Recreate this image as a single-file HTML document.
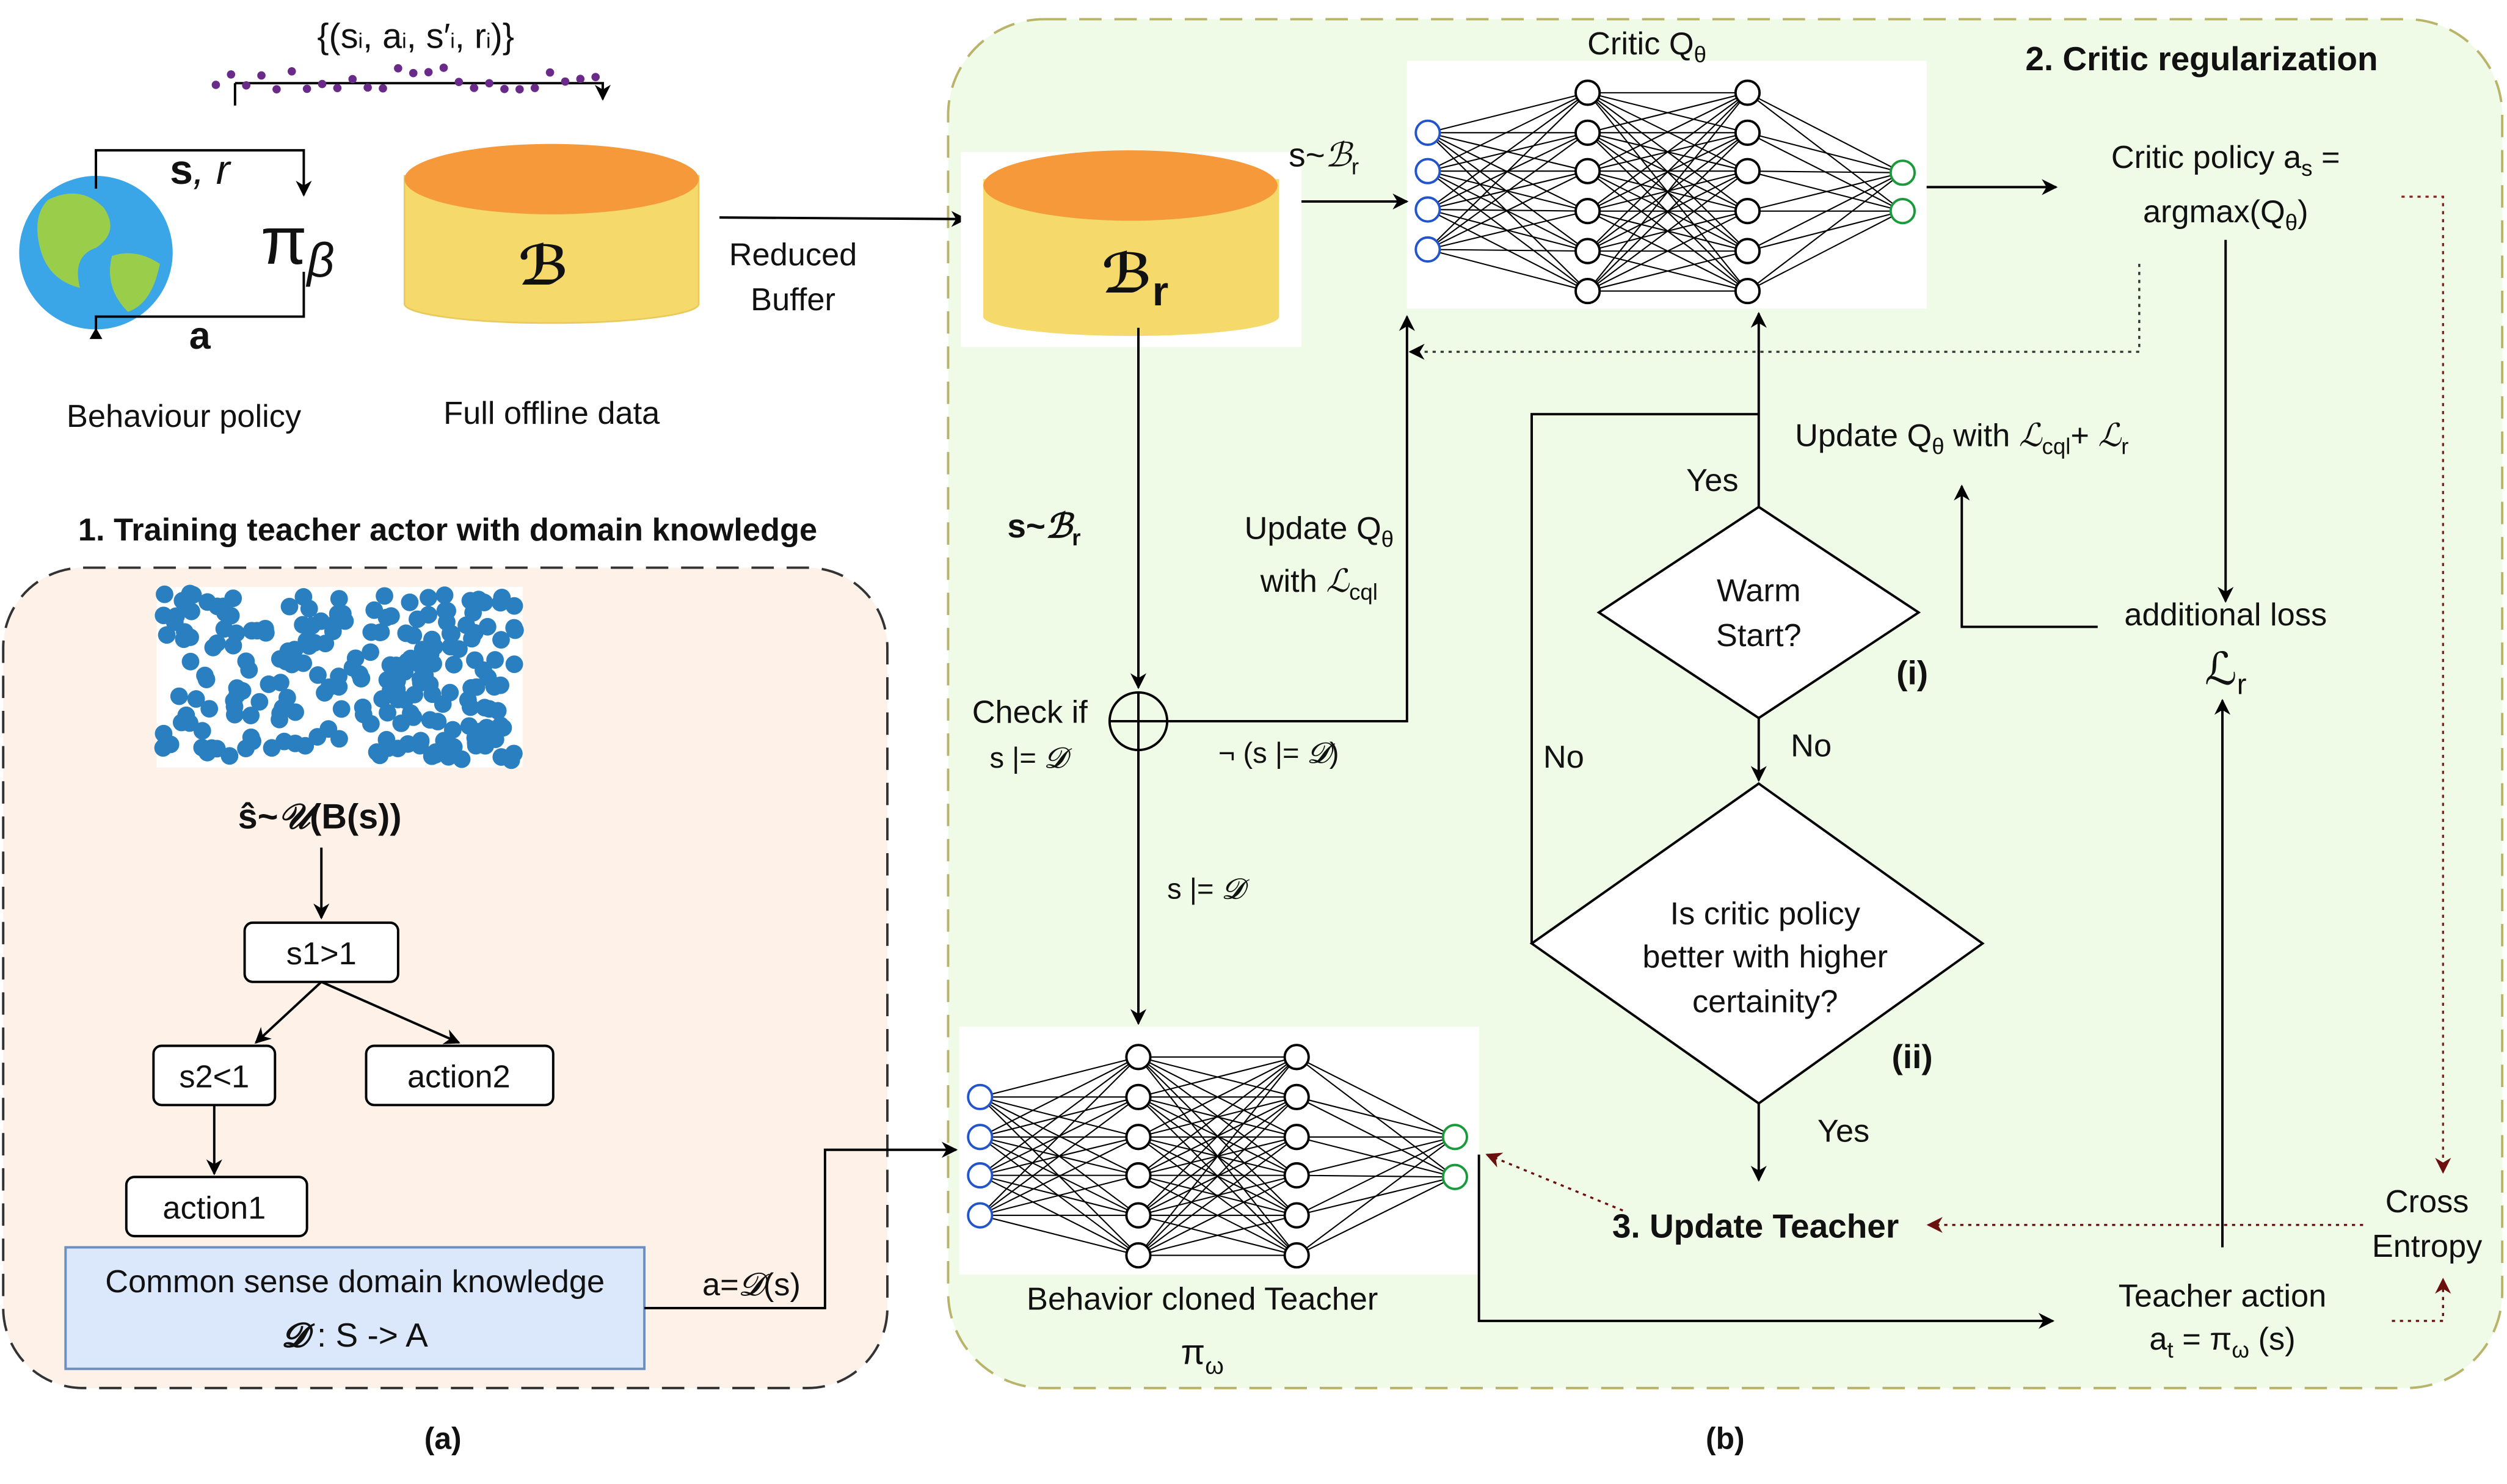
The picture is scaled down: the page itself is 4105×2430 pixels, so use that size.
<!DOCTYPE html>
<html><head><meta charset="utf-8"><style>
html,body{margin:0;padding:0;background:#fff}
svg{display:block}
text{font-family:"Liberation Sans","DejaVu Sans",sans-serif;fill:#111}
</style></head><body>
<svg id="s" width="4105" height="2430" viewBox="0 0 1568 928" preserveAspectRatio="none" xmlns="http://www.w3.org/2000/svg">
<defs>
<marker id="ah" markerWidth="10" markerHeight="10" refX="9" refY="5" orient="auto" markerUnits="userSpaceOnUse"><path d="M0,0 L10,5 L0,10 L3,5 z" fill="#000"/></marker>
<marker id="ar" markerWidth="10" markerHeight="10" refX="9" refY="5" orient="auto" markerUnits="userSpaceOnUse"><path d="M0,0 L10,5 L0,10 L3,5 z" fill="#6b0f0f"/></marker>
</defs>
<rect width="1568" height="928" fill="#fff"/>
<!-- panels -->
<rect x="2" y="355" width="553" height="513" rx="50" fill="#fdf1e8" stroke="#333" stroke-dasharray="14,8" stroke-width="1.5"/>
<rect x="593" y="12" width="972" height="856" rx="60" fill="#effbe7" stroke="#b9b46a" stroke-dasharray="14,8" stroke-width="1.5"/>

<!-- top-left -->
<text x="260" y="30" font-size="22" text-anchor="middle" font-family="Liberation Serif">{(s<tspan font-size="13">i</tspan>, a<tspan font-size="13">i</tspan>, s′<tspan font-size="13">i</tspan>, r<tspan font-size="13">i</tspan>)}</text>
<path d="M147,52 L377,52 L377,62" fill="none" stroke="#000" stroke-width="1.5" marker-end="url(#ah)"/>
<line x1="147" y1="52" x2="147" y2="66" stroke="#000" stroke-width="1.5"/>
<g fill="#6a2a8a" id="pdots"></g>
<circle cx="60" cy="158" r="48" fill="#3aa6e8"/>
<path d="M30,125 q20,-10 35,5 q10,15 -5,25 q-15,5 -10,25 q-20,-5 -25,-25 q-5,-20 5,-30z M70,160 q15,-5 30,5 q-5,25 -20,30 q-15,-15 -10,-35z" fill="#9acd4a"/>
<polyline points="60,118 60,94 190,94 190,122" fill="none" stroke="#000" stroke-width="1.5" marker-end="url(#ah)"/>
<polyline points="190,170 190,198 60,198 60,210" fill="none" stroke="#000" stroke-width="1.5"/>
<path d="M56,212 L60,205 L64,212z" fill="#000"/>
<text x="125" y="115" font-size="26" text-anchor="middle" font-family="Liberation Serif" font-weight="bold">s<tspan font-weight="normal" font-style="italic">, r</tspan></text>
<text x="125" y="218" font-size="24" text-anchor="middle" font-family="Liberation Serif" font-weight="bold">a</text>
<text x="163" y="165" font-size="42" font-family="Liberation Serif">π<tspan font-size="30" font-style="italic" dy="8">β</tspan></text>
<text x="115" y="267" font-size="20" text-anchor="middle">Behaviour policy</text>

<!-- cylinder B -->
<path d="M253,110 L253,190 A92,12 0 0 0 437,190 L437,110 z" fill="#f5d96b" stroke="#e8c95a"/>
<ellipse cx="345" cy="112" rx="92" ry="22" fill="#f5993a"/>
<text x="340" y="178" font-size="34" font-style="italic" font-weight="bold" text-anchor="middle" font-family="Liberation Serif">ℬ</text>
<text x="345" y="265" font-size="20" text-anchor="middle">Full offline data</text>
<text x="496" y="166" font-size="20" text-anchor="middle">Reduced</text>
<text x="496" y="194" font-size="20" text-anchor="middle">Buffer</text>
<line x1="450" y1="136" x2="604" y2="137" stroke="#000" stroke-width="1.5" marker-end="url(#ah)"/>

<!-- Br cylinder -->
<rect x="601" y="95" width="213" height="122" fill="#fff"/>
<path d="M615,112 L615,198 A92,12 0 0 0 800,198 L800,112 z" fill="#f5d96b"/>
<ellipse cx="707" cy="116" rx="92" ry="22" fill="#f5993a"/>
<text x="710" y="183" font-size="34" font-style="italic" font-weight="bold" text-anchor="middle" font-family="Liberation Serif">ℬ<tspan font-style="normal" font-family="Liberation Sans" font-size="26" dy="8">r</tspan></text>

<!-- networks -->
<rect x="880" y="38" width="325" height="155" fill="#fff"/>
<rect x="600" y="642" width="325" height="155" fill="#fff"/>
<g id="nets"></g>
<text x="1030" y="34" font-size="20" text-anchor="middle">Critic Q<tspan font-size="14" dy="5">θ</tspan></text>
<text x="1377" y="44" font-size="21" font-weight="bold" text-anchor="middle">2. Critic regularization</text>

<text x="806" y="104" font-size="21">s~<tspan font-style="italic" font-family="Liberation Serif">ℬ</tspan><tspan font-size="14" dy="5">r</tspan></text>
<line x1="814" y1="126" x2="880" y2="126" stroke="#000" stroke-width="1.5" marker-end="url(#ah)"/>
<line x1="1205" y1="117" x2="1286" y2="117" stroke="#000" stroke-width="1.5" marker-end="url(#ah)"/>
<text x="1392" y="105" font-size="20" text-anchor="middle">Critic policy a<tspan font-size="14" dy="5">s</tspan><tspan dy="-5"> =</tspan></text>
<text x="1392" y="139" font-size="20" text-anchor="middle">argmax(Q<tspan font-size="14" dy="5">θ</tspan><tspan dy="-5">)</tspan></text>
<polyline points="1338,165 1338,220 882,220" fill="none" stroke="#333" stroke-width="1.3" stroke-dasharray="2,3" marker-end="url(#ah)"/>
<polyline points="1502,123 1528,123 1528,733" fill="none" stroke="#8b2020" stroke-width="1.3" stroke-dasharray="2,3" marker-end="url(#ar)"/>
<line x1="1392" y1="150" x2="1392" y2="376" stroke="#000" stroke-width="1.5" marker-end="url(#ah)"/>
<text x="1392" y="391" font-size="20" text-anchor="middle">additional loss</text>
<text x="1392" y="428" font-size="28" text-anchor="middle" font-style="italic" font-family="Liberation Serif">ℒ<tspan font-style="normal" font-family="Liberation Sans" font-size="18" dy="6">r</tspan></text>
<polyline points="1312,392 1227,392 1227,304" fill="none" stroke="#000" stroke-width="1.5" marker-end="url(#ah)"/>
<text x="1227" y="279" font-size="20" text-anchor="middle">Update Q<tspan font-size="14" dy="5">θ</tspan><tspan dy="-5"> with </tspan><tspan font-style="italic" font-family="Liberation Serif">ℒ</tspan><tspan font-size="14" dy="5">cql</tspan><tspan dy="-5">+ </tspan><tspan font-style="italic" font-family="Liberation Serif">ℒ</tspan><tspan font-size="14" dy="5">r</tspan></text>
<line x1="1390" y1="780" x2="1390" y2="438" stroke="#000" stroke-width="1.5" marker-end="url(#ah)"/>

<!-- left vertical from Br -->
<line x1="712" y1="205" x2="712" y2="430" stroke="#000" stroke-width="1.5" marker-end="url(#ah)"/>
<text x="630" y="336" font-size="21" font-weight="bold">s~<tspan font-style="italic" font-family="Liberation Serif">ℬ</tspan><tspan font-size="14" dy="5">r</tspan></text>
<circle cx="712" cy="451" r="18" fill="none" stroke="#000" stroke-width="1.5"/>
<line x1="694" y1="451" x2="730" y2="451" stroke="#000" stroke-width="1.5"/>
<line x1="712" y1="433" x2="712" y2="640" stroke="#000" stroke-width="1.5" marker-end="url(#ah)"/>
<text x="608" y="452" font-size="20">Check if</text>
<text x="619" y="480" font-size="18">s |= <tspan font-style="italic" font-family="Liberation Serif">𝓓</tspan></text>
<polyline points="730,451 880,451 880,198" fill="none" stroke="#000" stroke-width="1.5" marker-end="url(#ah)"/>
<text x="762" y="477" font-size="18">¬ (s |= <tspan font-family="Liberation Serif" font-style="italic">𝓓</tspan>)</text>
<text x="825" y="337" font-size="20" text-anchor="middle">Update Q<tspan font-size="14" dy="5">θ</tspan></text>
<text x="825" y="370" font-size="20" text-anchor="middle">with <tspan font-style="italic" font-family="Liberation Serif">ℒ</tspan><tspan font-size="14" dy="5">cql</tspan></text>
<text x="730" y="562" font-size="18">s |= <tspan font-family="Liberation Serif" font-style="italic">𝓓</tspan></text>

<!-- decisions -->
<polygon points="1100,317 1200,383 1100,449 1000,383" fill="#fff" stroke="#000" stroke-width="1.5"/>
<text x="1100" y="376" font-size="20" text-anchor="middle">Warm</text>
<text x="1100" y="404" font-size="20" text-anchor="middle">Start?</text>
<text x="1196" y="428" font-size="21" font-weight="bold" text-anchor="middle">(i)</text>
<line x1="1100" y1="317" x2="1100" y2="196" stroke="#000" stroke-width="1.5" marker-end="url(#ah)"/>
<text x="1071" y="307" font-size="20" text-anchor="middle">Yes</text>
<line x1="1100" y1="449" x2="1100" y2="488" stroke="#000" stroke-width="1.5" marker-end="url(#ah)"/>
<text x="1120" y="473" font-size="20">No</text>
<polygon points="1100,490 1240,590 1100,690 958,590" fill="#fff" stroke="#000" stroke-width="1.5"/>
<text x="1104" y="578" font-size="20" text-anchor="middle">Is critic policy</text>
<text x="1104" y="605" font-size="20" text-anchor="middle">better with higher</text>
<text x="1104" y="633" font-size="20" text-anchor="middle">certainity?</text>
<text x="1196" y="668" font-size="21" font-weight="bold" text-anchor="middle">(ii)</text>
<polyline points="958,590 958,259 1100,259" fill="none" stroke="#000" stroke-width="1.5"/>
<text x="978" y="480" font-size="20" text-anchor="middle">No</text>
<line x1="1100" y1="690" x2="1100" y2="738" stroke="#000" stroke-width="1.5" marker-end="url(#ah)"/>
<text x="1153" y="714" font-size="20" text-anchor="middle">Yes</text>
<text x="1098" y="774" font-size="21" font-weight="bold" text-anchor="middle">3. Update Teacher</text>
<line x1="1478" y1="766" x2="1206" y2="766" stroke="#6b0f0f" stroke-width="1.3" stroke-dasharray="2,3" marker-end="url(#ar)"/>
<line x1="1015" y1="757" x2="930" y2="722" stroke="#6b0f0f" stroke-width="1.3" stroke-dasharray="2,3" marker-end="url(#ar)"/>
<text x="1518" y="758" font-size="20" text-anchor="middle">Cross</text>
<text x="1518" y="786" font-size="20" text-anchor="middle">Entropy</text>
<polyline points="1496,826 1528,826 1528,800" fill="none" stroke="#6b0f0f" stroke-width="1.3" stroke-dasharray="2,3" marker-end="url(#ar)"/>

<text x="752" y="819" font-size="20" text-anchor="middle">Behavior cloned Teacher</text>
<text x="752" y="853" font-size="22" text-anchor="middle">π<tspan font-size="15" dy="6">ω</tspan></text>
<polyline points="925,722 925,826 1284,826" fill="none" stroke="#000" stroke-width="1.5" marker-end="url(#ah)"/>
<text x="1390" y="817" font-size="20" text-anchor="middle">Teacher action</text>
<text x="1390" y="844" font-size="20" text-anchor="middle">a<tspan font-size="14" dy="5">t</tspan><tspan dy="-5"> = π</tspan><tspan font-size="14" dy="5">ω</tspan><tspan dy="-5"> (s)</tspan></text>

<!-- left panel -->
<text x="280" y="338" font-size="20" font-weight="bold" text-anchor="middle">1. Training teacher actor with domain knowledge</text>
<rect x="98" y="367" width="229" height="113" fill="#fff"/>
<g id="dots" fill="#2a7fc0"></g>
<text x="200" y="518" font-size="22" font-weight="bold" text-anchor="middle">ŝ~<tspan font-style="italic" font-family="Liberation Serif">𝒰</tspan>(B(s))</text>
<line x1="201" y1="530" x2="201" y2="574" stroke="#000" stroke-width="1.5" marker-end="url(#ah)"/>
<rect x="153" y="577" width="96" height="37" rx="5" fill="#fff" stroke="#000" stroke-width="1.5"/>
<text x="201" y="603" font-size="20" text-anchor="middle">s1&gt;1</text>
<line x1="201" y1="614" x2="160" y2="652" stroke="#000" stroke-width="1.5" marker-end="url(#ah)"/>
<line x1="201" y1="614" x2="287" y2="652" stroke="#000" stroke-width="1.5" marker-end="url(#ah)"/>
<rect x="96" y="654" width="76" height="37" rx="5" fill="#fff" stroke="#000" stroke-width="1.5"/>
<text x="134" y="680" font-size="20" text-anchor="middle">s2&lt;1</text>
<rect x="229" y="654" width="117" height="37" rx="5" fill="#fff" stroke="#000" stroke-width="1.5"/>
<text x="287" y="680" font-size="20" text-anchor="middle">action2</text>
<line x1="134" y1="691" x2="134" y2="734" stroke="#000" stroke-width="1.5" marker-end="url(#ah)"/>
<rect x="79" y="736" width="113" height="37" rx="5" fill="#fff" stroke="#000" stroke-width="1.5"/>
<text x="134" y="762" font-size="20" text-anchor="middle">action1</text>
<rect x="41" y="780" width="362" height="76" fill="#dbe7fb" stroke="#6d8ebf" stroke-width="1.5"/>
<text x="222" y="808" font-size="20" text-anchor="middle">Common sense domain knowledge</text>
<text x="222" y="842" font-size="21" text-anchor="middle"><tspan font-style="italic" font-weight="bold" font-family="Liberation Serif">𝓓</tspan> : S -&gt; A</text>
<text x="470" y="810" font-size="20" text-anchor="middle">a=<tspan font-style="italic" font-family="Liberation Serif">𝓓</tspan>(s)</text>
<polyline points="403,818 516,818 516,719 598,719" fill="none" stroke="#000" stroke-width="1.5" marker-end="url(#ah)"/>

<text x="277" y="906" font-size="19" font-weight="bold" text-anchor="middle">(a)</text>
<text x="1079" y="906" font-size="19" font-weight="bold" text-anchor="middle">(b)</text>
</svg>
<script>
var NS="http://www.w3.org/2000/svg";
function el(p,t,a){var e=document.createElementNS(NS,t);for(var k in a)e.setAttribute(k,a[k]);p.appendChild(e);return e;}
var nets=document.getElementById("nets");
function net(x0,dx,iy,hy,oy,xo){
 var xs=[x0,x0+dx,x0+2*dx,xo];var L=[iy,hy,hy,oy];
 for(var l=0;l<3;l++)for(var i=0;i<L[l].length;i++)for(var j=0;j<L[l+1].length;j++)
  el(nets,"line",{x1:xs[l],y1:L[l][i],x2:xs[l+1],y2:L[l+1][j],stroke:"#000","stroke-width":0.8});
 var col=["#2255cc","#000","#000","#1a9a3a"];
 for(var l=0;l<4;l++)for(var i=0;i<L[l].length;i++)
  el(nets,"circle",{cx:xs[l],cy:L[l][i],r:7.5,fill:"#fff",stroke:col[l],"stroke-width":1.5});
}
net(893,100,[83,107,131,156],[58,83,107,132,157,182],[108,132],1190);
net(613,99,[686,711,735,760],[661,686,711,735,760,785],[711,736],910);
var seed=7;function rnd(){seed=(seed*16807)%2147483647;return seed/2147483647;}
var d=document.getElementById("dots");
for(var i=0;i<230;i++)el(d,"circle",{cx:102+rnd()*221,cy:371+rnd()*105,r:5.5});
var p=document.getElementById("pdots");
for(var i=0;i<26;i++)el(p,"circle",{cx:135+i*9.5,cy:50+(rnd()-0.5)*16,r:2.6});
</script>
</body></html>
